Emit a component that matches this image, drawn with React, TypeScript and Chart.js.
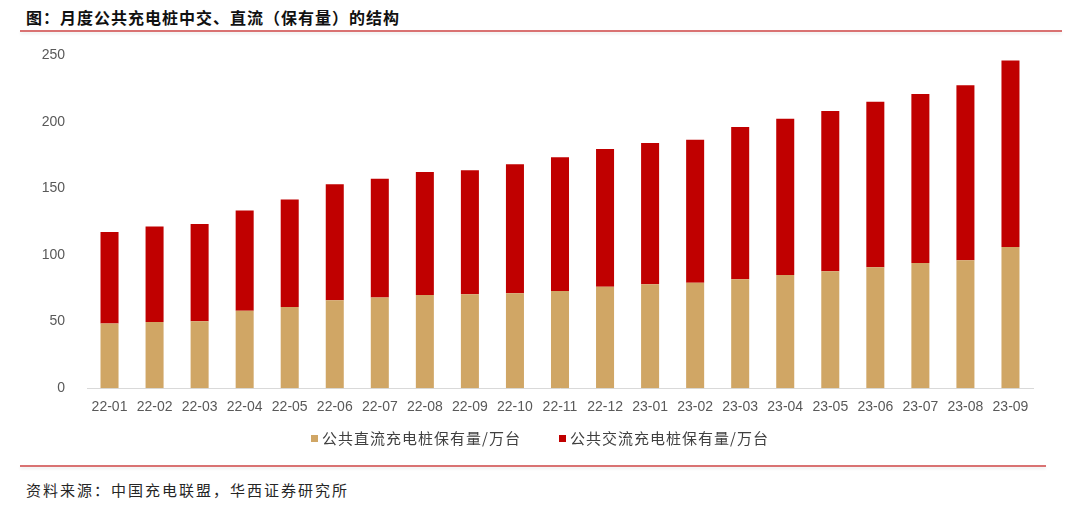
import { useEffect, useRef } from 'react';
import { Chart, registerables } from 'chart.js';

Chart.register(...registerables);

const months = [
  '22-01', '22-02', '22-03', '22-04', '22-05', '22-06', '22-07', '22-08', '22-09', '22-10', '22-11',
  '22-12', '23-01', '23-02', '23-03', '23-04', '23-05', '23-06', '23-07', '23-08', '23-09',
];
// 公共直流充电桩保有量/万台
const dcPiles = [48.6, 49.8, 50.3, 58.1, 61.0, 66.1, 68.1, 70.1, 70.6, 71.3, 73.1, 76.3, 78.1, 79.3, 81.8, 85.1, 87.8, 90.8, 94.1, 96.1, 106.1];
// 公共交流充电桩保有量/万台
const acPiles = [68.8, 71.6, 73.1, 75.3, 80.7, 87.1, 89.3, 92.3, 93.1, 96.9, 100.3, 103.4, 106.1, 107.4, 114.4, 117.3, 120.4, 124.4, 126.9, 131.4, 140.1];
const yTicks = [0, 50, 100, 150, 200, 250];

const series = [
  { label: '公共直流充电桩保有量/万台', data: dcPiles, color: '#D0A665' },
  { label: '公共交流充电桩保有量/万台', data: acPiles, color: '#C00000' },
];

const tickFont = { size: 14, family: '"Liberation Sans", Arial, sans-serif' };
const cjk = '"Noto Sans CJK SC", sans-serif';

function PileChart() {
  const canvasRef = useRef<HTMLCanvasElement>(null);
  const chartRef = useRef<Chart | null>(null);

  useEffect(() => {
    if (!canvasRef.current) return;
    const ctx = canvasRef.current.getContext('2d');
    if (!ctx) return;
    if (chartRef.current) chartRef.current.destroy();

    chartRef.current = new Chart(ctx, {
      type: 'bar',
      data: {
        labels: months,
        datasets: series.map((s) => ({
          label: s.label,
          data: s.data,
          backgroundColor: s.color,
          barPercentage: 0.4,
          categoryPercentage: 1,
        })),
      },
      options: {
        responsive: false,
        animation: false,
        layout: { padding: { top: 0, right: 47, bottom: 2, left: 0 } },
        plugins: {
          legend: { display: false },
          tooltip: { enabled: false },
        },
        scales: {
          x: {
            stacked: true,
            grid: { display: false, drawTicks: false },
            border: { display: true, color: '#d9d9d9', width: 1 },
            ticks: { color: '#595959', font: tickFont, padding: 11, maxRotation: 0, autoSkip: false },
          },
          y: {
            stacked: true,
            min: 0,
            max: 250,
            afterBuildTicks: (scale) => {
              scale.ticks = yTicks.map((v) => ({ value: v }));
            },
            afterFit: (scale) => {
              scale.width = 87;
            },
            grid: { display: false, drawTicks: false },
            border: { display: false },
            ticks: { color: '#595959', font: tickFont, padding: 22 },
          },
        },
      },
    });

    return () => {
      if (chartRef.current) {
        chartRef.current.destroy();
        chartRef.current = null;
      }
    };
  }, []);

  return <canvas ref={canvasRef} width={1080} height={404} style={{ position: 'absolute', left: 0, top: 25 }} />;
}

function Legend() {
  return (
    <div
      style={{
        position: 'absolute', left: 0, top: 428, width: 1080, display: 'flex', justifyContent: 'center',
        gap: 38, fontFamily: cjk, fontSize: 15, letterSpacing: 1, color: '#404040', lineHeight: '20px',
      }}
    >
      {series.map((s) => (
        <div key={s.label} style={{ display: 'flex', alignItems: 'center', whiteSpace: 'nowrap' }}>
          <span style={{ width: 7, height: 7, background: s.color, marginRight: 4, display: 'inline-block' }} />
          <span>{s.label}</span>
        </div>
      ))}
    </div>
  );
}

export default function App() {
  return (
    <div style={{ position: 'absolute', left: 0, top: 0, width: 1080, height: 513, background: '#fff', overflow: 'hidden' }}>
      <div
        style={{
          position: 'absolute', left: 26, top: 6, fontFamily: cjk, fontWeight: 700, fontSize: 16,
          letterSpacing: 1, color: '#111', lineHeight: '22px', whiteSpace: 'nowrap',
        }}
      >
        图：月度公共充电桩中交、直流（保有量）的结构
      </div>
      <div style={{ position: 'absolute', left: 20, top: 30, width: 1042, height: 2, background: '#d97272', boxShadow: '0 2px 3px rgba(0,0,0,0.08)' }} />
      <PileChart />
      <Legend />
      <div style={{ position: 'absolute', left: 20, top: 465, width: 1026, height: 2, background: '#d97272', boxShadow: '0 2px 3px rgba(0,0,0,0.08)' }} />
      <div
        style={{
          position: 'absolute', left: 26, top: 479, fontFamily: cjk, fontSize: 15, letterSpacing: 2,
          color: '#262626', lineHeight: '22px', whiteSpace: 'nowrap',
        }}
      >
        资料来源：中国充电联盟，华西证券研究所
      </div>
    </div>
  );
}
